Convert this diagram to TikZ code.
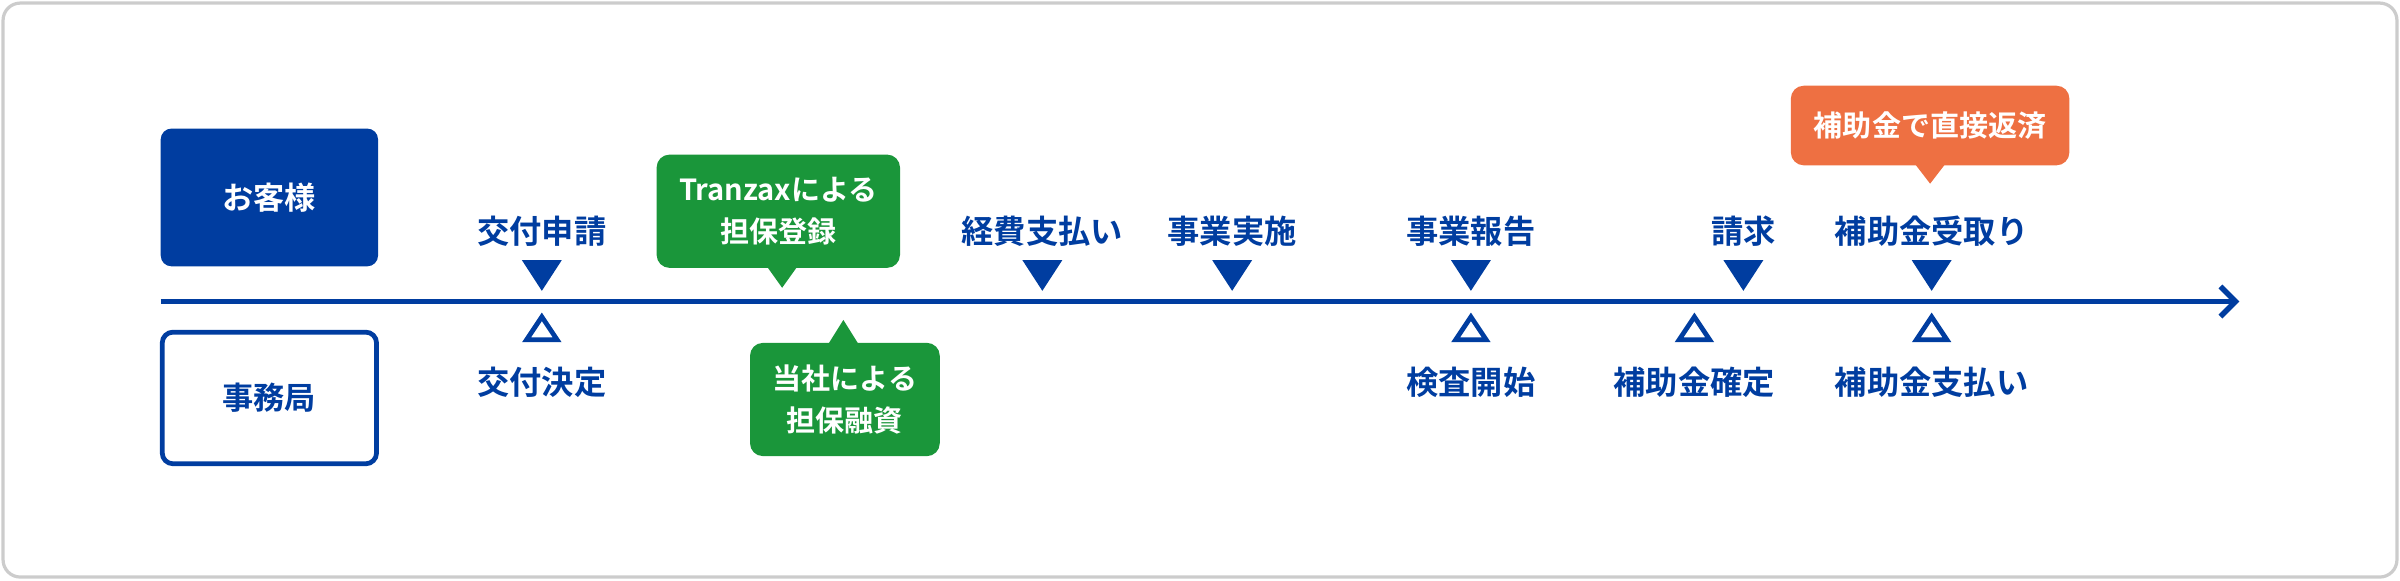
\documentclass[tikz,border=0pt]{standalone}
\usepackage{fontspec}
\setmainfont{Noto Sans CJK JP}[BoldFont={Noto Sans CJK JP Bold}]
\usetikzlibrary{arrows.meta}
\definecolor{navy}{HTML}{003DA0}
\definecolor{grn}{HTML}{1A963A}
\definecolor{org}{HTML}{EE7042}
\definecolor{frame}{HTML}{CCCCCC}
\begin{document}
\begin{tikzpicture}[x=0.25mm,y=-0.25mm,
  lbl/.style={font=\fontsize{15}{18}\selectfont\bfseries, text=navy, inner sep=0},
  callout/.style={rounded corners=6, font=\fontsize{13.5}{19.5}\selectfont\bfseries, text=white, align=center, inner sep=0},
  dtri/.style={fill=navy},
  utri/.style={draw=navy, line width=2.2pt, fill=white}]
\useasboundingbox (0,0) rectangle (1568,379);
\draw[frame, line width=1.5pt, rounded corners=8] (2,2) rectangle (1566,377);
% party boxes
\node[fill=navy, rounded corners=5, minimum width=142*0.25mm, minimum height=90*0.25mm, text=white, font=\fontsize{14.5}{17}\selectfont\bfseries] (cust) at (176,129) {お客様};
\node[draw=navy, line width=2.2pt, fill=white, rounded corners=5, minimum width=140*0.25mm, minimum height=86*0.25mm, text=navy, font=\fontsize{14.5}{17}\selectfont\bfseries] (off) at (176,260) {事務局};
% timeline
\coordinate (ts) at (105,197);
\coordinate (te) at (1463,197);
\draw[navy, line width=2.5pt, -{Straight Barb[length=7pt,width=14pt,line width=2.5pt]}] (ts) -- (te);
% filled down triangles + labels
\foreach \n/\x/\t in {a/354/交付申請, b/681/経費支払い, c/805/事業実施, d/961/事業報告, e/1139/請求, f/1262/補助金受取り}{
  \coordinate (d\n) at (\x,190);
  \fill[navy] (\x-13,170) -- (\x+13,170) -- (d\n) -- cycle;
  \node[lbl] (ld\n) at (\x,151) {\t};
}
% hollow up triangles + labels
\foreach \n/\x/\t in {a/354/交付決定, b/961/検査開始, c/1107/補助金確定, d/1262/補助金支払い}{
  \coordinate (u\n) at (\x,207);
  \draw[utri] (u\n) -- (\x+10,222) -- (\x-10,222) -- cycle;
  \node[lbl] (lu\n) at (\x,250) {\t};
}
% callouts
\fill[grn] (501,174) -- (511,188) -- (521,174) -- cycle;
\node[callout, fill=grn, minimum width=159*0.25mm, minimum height=74*0.25mm] (c1) at (508.5,138) {Tranzaxによる\\担保登録};
\fill[grn] (541,225) -- (551,209) -- (561,225) -- cycle;
\node[callout, fill=grn, minimum width=124*0.25mm, minimum height=74*0.25mm] (c2) at (552,261) {当社による\\担保融資};
\fill[org] (1251,107) -- (1261,120) -- (1271,107) -- cycle;
\node[callout, fill=org, minimum width=182*0.25mm, minimum height=52*0.25mm] (c3) at (1261,82) {補助金で直接返済};
\end{tikzpicture}
\end{document}
